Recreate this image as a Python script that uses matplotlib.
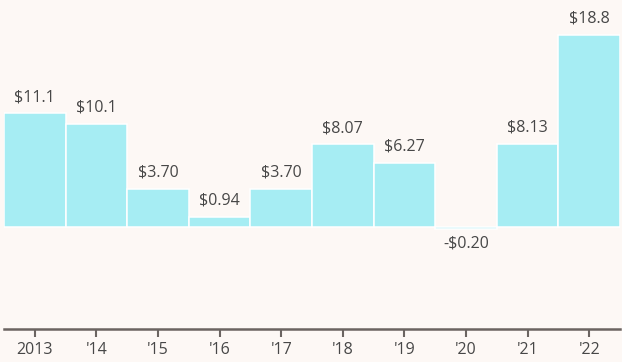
import matplotlib.pyplot as plt

years = ["2013", "'14", "'15", "'16", "'17", "'18", "'19", "'20", "'21", "'22"]
values = [11.1, 10.1, 3.70, 0.94, 3.70, 8.07, 6.27, -0.20, 8.13, 18.8]
labels = ["$11.1", "$10.1", "$3.70", "$0.94", "$3.70", "$8.07", "$6.27", "-$0.20", "$8.13", "$18.8"]

BG = "#fdf8f5"
BAR = "#a6edf3"
TXT = "#474747"

plt.rcParams["font.family"] = ["Open Sans", "DejaVu Sans"]

fig = plt.figure(figsize=(6.22, 3.62), dpi=100, facecolor=BG)
ax = fig.add_axes([4 / 622, 33 / 362, 616 / 622, 329 / 362])
ax.set_facecolor(BG)

x = list(range(len(years)))
ax.bar(x, values, width=1.0, color=BAR, edgecolor="white", linewidth=1.1)

# value labels above (or below, for negatives) each bar
for xi, v, lab in zip(x, values, labels):
    if v >= 0:
        ax.annotate(lab, (xi, v), xytext=(0, 6), textcoords="offset points",
                    ha="center", va="bottom", fontsize=11.5, color=TXT)
    else:
        ax.annotate(lab, (xi, v), xytext=(0, -5), textcoords="offset points",
                    ha="center", va="top", fontsize=11.5, color=TXT)

ax.set_xlim(-0.5, 9.5)
ax.set_ylim(-10.0, 22.2)
ax.set_xticks(x)
ax.set_xticklabels(years, fontsize=11.5, color=TXT)
ax.set_yticks([])
for s in ["top", "right", "left"]:
    ax.spines[s].set_visible(False)
ax.spines["bottom"].set_color("#6b6461")
ax.spines["bottom"].set_linewidth(1.8)
ax.tick_params(axis="x", length=6, width=1.5, color="#6b6461", pad=3)

fig.savefig("out.png", dpi=100, facecolor=BG)
